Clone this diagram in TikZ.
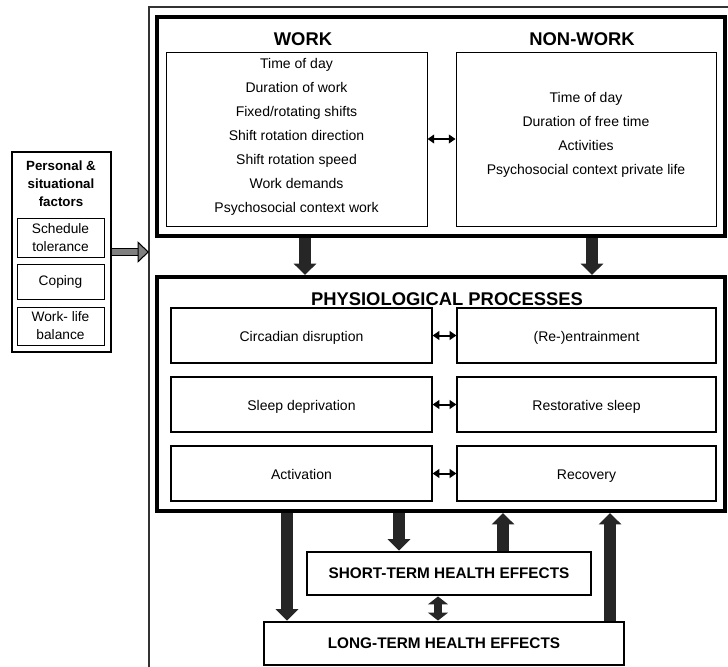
\documentclass[tikz,border=0pt]{standalone}
\usepackage{fontspec}
\setmainfont{Liberation Sans}
\usetikzlibrary{arrows.meta}

\begin{document}
\begin{tikzpicture}[x=0.75pt,y=-0.75pt,
    bigbox/.style={draw,line width=3pt,inner sep=0pt},
    healthbox/.style={draw,line width=2.2pt,inner sep=0pt,font=\fontsize{11.5}{14}\selectfont\bfseries},
    listbox/.style={draw,line width=0.7pt,inner sep=0pt,align=center,font=\fontsize{10.5}{18}\selectfont},
    procbox/.style={draw,line width=0.9pt,inner sep=0pt,minimum height=41.25pt,text height=10.8pt,text depth=2.2pt,font=\fontsize{10.5}{13}\selectfont},
    factorbox/.style={draw,line width=0.6pt,inner sep=0pt,minimum width=65.25pt,align=center,font=\fontsize{10.3}{13.5}\selectfont},
    boxtitle/.style={font=\fontsize{13.8}{16}\selectfont\bfseries},
    blockarrow/.style={line width=8.5pt,black!85,-{Triangle[length=8.5pt,width=16.5pt]}},
    twoway/.style={line width=1.5pt,{Triangle[length=5pt,width=6.5pt]}-{Triangle[length=5pt,width=6.5pt]}},
    bigtwoway/.style={line width=6pt,black!85,{Triangle[length=6pt,width=15pt]}-{Triangle[length=6pt,width=15pt]}}
]
    \useasboundingbox (0,0) rectangle (728,667);

    \coordinate (framebottom) at (149,667);
    \coordinate (framecorner) at (149,7);
    \coordinate (frameright) at (728,7);
    \draw[line width=0.8pt,black!80] (framebottom) -- (framecorner) -- (frameright);

    % work and non-work
    \node[bigbox,minimum width=426pt,minimum height=164.25pt] (top) at (441,126.5) {};
    \node[boxtitle] (worktitle) at (303,39) {WORK};
    \node[boxtitle] (nonworktitle) at (582,39) {NON-WORK};
    \node[listbox,minimum width=195.75pt,minimum height=130.5pt,text depth=5pt] (work) at (296.5,139)
        {Time of day\\Duration of work\\Fixed/rotating shifts\\Shift rotation direction\\Shift rotation speed\\Work demands\\Psychosocial context work};
    \node[listbox,minimum width=195pt,minimum height=130.5pt,text depth=9pt] (nonwork) at (586,139)
        {Time of day\\Duration of free time\\Activities\\Psychosocial context private life};
    \draw[twoway] (work.east) -- (nonwork.west);

    % physiological processes
    \node[bigbox,minimum width=426pt,minimum height=175.5pt] (phys) at (441,394) {};
    \node[boxtitle] (physttitle) at (447,299) {PHYSIOLOGICAL PROCESSES};
    \node[procbox,minimum width=195.75pt] (circ) at (301.5,335.5) {Circadian disruption};
    \node[procbox,minimum width=194.25pt] (entr) at (586.5,335.5) {(Re-)entrainment};
    \node[procbox,minimum width=195.75pt] (sleepdep) at (301.5,404.5) {Sleep deprivation};
    \node[procbox,minimum width=194.25pt] (restsleep) at (586.5,404.5) {Restorative sleep};
    \node[procbox,minimum width=195.75pt] (activ) at (301.5,473.5) {Activation};
    \node[procbox,minimum width=194.25pt] (recov) at (586.5,473.5) {Recovery};
    \draw[twoway] (circ.east) -- (entr.west);
    \draw[twoway] (sleepdep.east) -- (restsleep.west);
    \draw[twoway] (activ.east) -- (recov.west);

    \draw[blockarrow] (305,0 |- top.south) -- (305,0 |- phys.north);
    \draw[blockarrow] (592,0 |- top.south) -- (592,0 |- phys.north);

    % health effects
    \node[healthbox,minimum width=213pt,minimum height=32.25pt] (short) at (449,573.5) {SHORT-TERM HEALTH EFFECTS};
    \node[healthbox,minimum width=270pt,minimum height=32.25pt] (long) at (444,643.5) {LONG-TERM HEALTH EFFECTS};
    \draw[blockarrow] (287,0 |- phys.south) -- (287,0 |- long.north);
    \draw[blockarrow] (399,0 |- phys.south) -- (399,0 |- short.north);
    \draw[blockarrow] (503,0 |- short.north) -- (503,0 |- phys.south);
    \draw[blockarrow] (610,0 |- long.north) -- (610,0 |- phys.south);
    \draw[bigtwoway] (438,0 |- short.south) -- (438,0 |- long.north);

    % personal & situational factors
    \node[draw,line width=1.1pt,minimum width=74.25pt,minimum height=150pt,inner sep=0pt] (pers) at (61.5,252) {};
    \node[align=center,font=\fontsize{10}{13.5}\selectfont\bfseries] (perstitle) at (61,184) {Personal \&\\situational\\factors};
    \node[factorbox,minimum height=29.25pt] (sched) at (60.5,237.5) {Schedule\\tolerance};
    \node[factorbox,minimum height=26.25pt] (coping) at (60.5,281.5) {Coping};
    \node[factorbox,minimum height=28.5pt] (wlb) at (60.5,326) {Work- life\\balance};
    \draw[line width=0.8pt,double=gray,double distance=5pt,-{Triangle[length=8.5pt,width=16pt,fill=gray,line width=0.8pt]}]
        (pers.east) -- (pers.east -| framecorner);
\end{tikzpicture}
\end{document}
